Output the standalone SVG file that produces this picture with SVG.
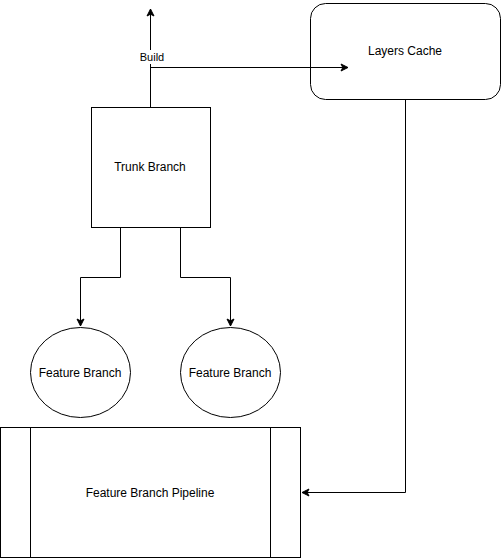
<svg xmlns="http://www.w3.org/2000/svg" width="501" height="558" viewBox="0 0 501 558">
<style>
.s{fill:#fff;stroke:#000;stroke-width:1}
.c{fill:none;stroke:#000;stroke-width:1}
text{font-family:"Liberation Sans",Arial,sans-serif;font-size:12px;fill:#000;text-anchor:middle;dominant-baseline:central}
.lb{font-size:11px}
</style>
<defs>
<marker id="a" markerWidth="10" markerHeight="10" viewBox="0 0 10 10" refX="8" refY="5" orient="auto" markerUnits="userSpaceOnUse">
<path d="M1,1.5 L8,5 L1,8.5 L2.8,5 Z" fill="#000" stroke="#000" stroke-width="1"/>
</marker>
</defs>
<rect width="501" height="558" fill="#fff"/>
<g id="trunk">
<rect class="s" x="91.5" y="107.5" width="119" height="120"/>
<text x="150" y="167">Trunk Branch</text>
</g>
<g id="cache">
<rect class="s" x="310.5" y="3.5" width="190" height="96" rx="15" ry="15"/>
<text x="405" y="51">Layers Cache</text>
</g>
<g id="feature1">
<ellipse class="s" cx="80.5" cy="372.5" rx="50" ry="45"/>
<text x="80" y="373">Feature Branch</text>
</g>
<g id="feature2">
<ellipse class="s" cx="230.5" cy="372.5" rx="50" ry="45"/>
<text x="230" y="373">Feature Branch</text>
</g>
<g id="pipeline">
<rect class="s" x="0.5" y="427.5" width="300" height="130"/>
<path class="c" d="M30.5,427.5 V557.5 M270.5,427.5 V557.5"/>
<text x="150" y="493">Feature Branch Pipeline</text>
</g>
<g id="connectors">
<path class="c" d="M150.5,107 V9" marker-end="url(#a)"/>
<path class="c" d="M150.5,67.5 H348" marker-end="url(#a)"/>
<path class="c" d="M120.5,227 V277.5 H80.5 V326" marker-end="url(#a)"/>
<path class="c" d="M180.5,227 V277.5 H230.5 V326" marker-end="url(#a)"/>
<path class="c" d="M405.5,99 V492.5 H302" marker-end="url(#a)"/>
<rect x="137" y="50" width="30" height="14" fill="#fff"/>
<text class="lb" x="152" y="57">Build</text>
</g>
</svg>
